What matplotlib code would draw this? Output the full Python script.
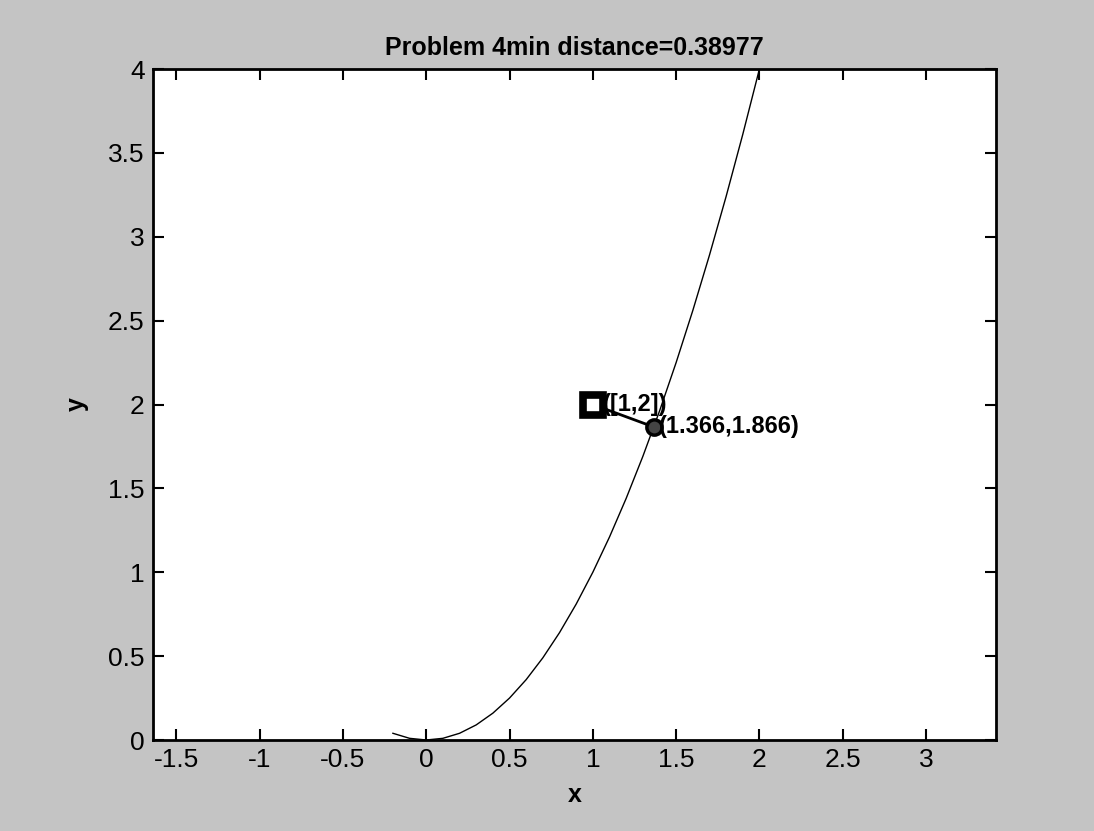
import matplotlib
matplotlib.use("Agg")
import matplotlib.pyplot as plt

# curve points
curve_x = [-0.2, -0.1, 0.0, 0.1, 0.2, 0.3, 0.4, 0.5, 0.6, 0.7, 0.8, 0.9, 1.0,
           1.1, 1.2, 1.3, 1.4, 1.5, 1.6, 1.7, 1.8, 1.9, 2.0]
curve_y = [0.04, 0.01, 0.0, 0.01, 0.04, 0.09, 0.16, 0.25, 0.36, 0.49, 0.64, 0.81, 1.0,
           1.21, 1.44, 1.69, 1.96, 2.25, 2.56, 2.89, 3.24, 3.61, 4.0]

given_pt = (1.0, 2.0)
closest_pt = (1.366, 1.866)
given_label = "([1,2])"
closest_label = "(1.366,1.866)"
title_text = "Problem 4min distance=0.38977"

xticks = [-1.5, -1, -0.5, 0, 0.5, 1, 1.5, 2, 2.5, 3]
xtick_labels = ["-1.5", "-1", "-0.5", "0", "0.5", "1", "1.5", "2", "2.5", "3"]
yticks = [0, 0.5, 1, 1.5, 2, 2.5, 3, 3.5, 4]
ytick_labels = ["0", "0.5", "1", "1.5", "2", "2.5", "3", "3.5", "4"]

plt.rcParams['font.family'] = ['Liberation Sans Narrow', 'Liberation Sans', 'DejaVu Sans']

fig = plt.figure(figsize=(10.94, 8.31), dpi=100, facecolor='#c4c4c4')
ax = fig.add_axes([153 / 1094, 1 - 740 / 831, 843 / 1094, 671 / 831])
ax.set_facecolor('white')

ax.plot(curve_x, curve_y, color='black', linewidth=1.0)
ax.plot([given_pt[0], closest_pt[0]], [given_pt[1], closest_pt[1]],
        color='black', linewidth=2.0)
ax.plot(*given_pt, marker='s', markersize=15, color='black',
        markerfacecolor='white', markeredgewidth=5.5)
ax.plot(*closest_pt, marker='o', markersize=11, color='black',
        markerfacecolor='#444444', markeredgewidth=2.5)

ax.text(given_pt[0] + 0.06, given_pt[1], given_label, fontsize=17,
        fontweight='bold', va='center', ha='left')
ax.text(closest_pt[0] + 0.03, closest_pt[1], closest_label, fontsize=17,
        fontweight='bold', va='center', ha='left')

ax.set_xlim(-1.64, 3.42)
ax.set_ylim(0, 4)
ax.set_xticks(xticks)
ax.set_xticklabels(xtick_labels)
ax.set_yticks(yticks)
ax.set_yticklabels(ytick_labels)
ax.tick_params(direction='in', length=8, width=1.5, labelsize=19,
               top=True, right=True, pad=6)
for s in ax.spines.values():
    s.set_linewidth(2)

ax.set_title(title_text, fontsize=18, fontweight='bold', pad=10)
ax.set_xlabel("x", fontsize=18, fontweight='bold', labelpad=8)
ax.set_ylabel("y", fontsize=18, fontweight='bold', labelpad=14)

fig.savefig("out.png", dpi=100, facecolor=fig.get_facecolor())
